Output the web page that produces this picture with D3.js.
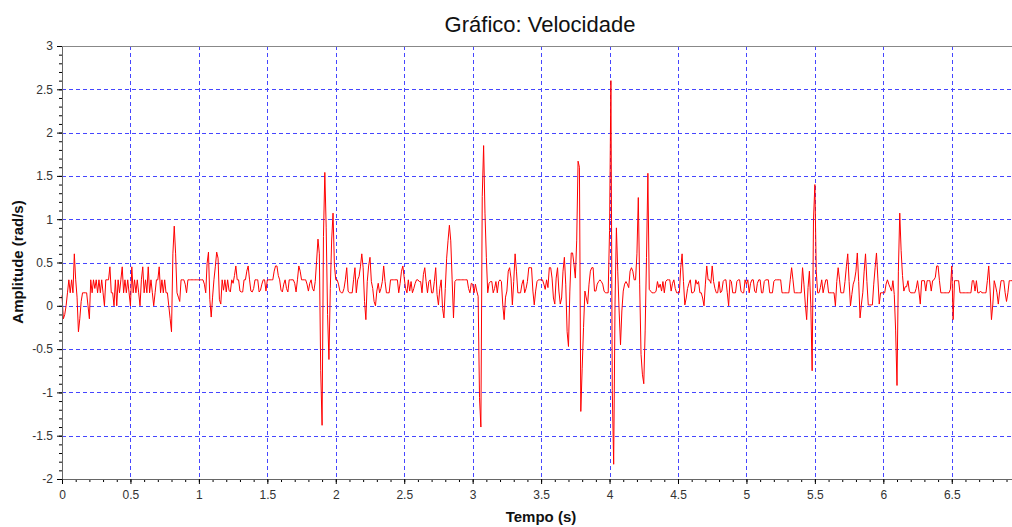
<!DOCTYPE html>
<html>
<head>
<meta charset="utf-8">
<script src="https://cdn.jsdelivr.net/npm/d3@7"></script>
<style>
  body { margin: 0; background: #fff; }
  svg { display: block; font-family: "Liberation Sans", Arial, sans-serif; }
  .tick text { fill: #333; font-size: 12px; }
  .grid line { stroke: #4646ff; stroke-dasharray: 4,3; shape-rendering: crispEdges; }
</style>
</head>
<body>
<svg id="chart" width="1012" height="527"></svg>
<script>
const titleText = "Gráfico: Velocidade";
const xAxisLabel = "Tempo (s)";
const yAxisLabel = "Amplitude (rad/s)";

const xDomain = [0, 6.94];
const yDomain = [-2, 3];
const xTicks = [0, 0.5, 1, 1.5, 2, 2.5, 3, 3.5, 4, 4.5, 5, 5.5, 6, 6.5];
const yTicks = [-2, -1.5, -1, -0.5, 0, 0.5, 1, 1.5, 2, 2.5, 3];
const sampleStep = 0.01; // s

// velocity (rad/s), one value every 0.01 s
const velocity = [
  0.12, -0.15, -0.1, 0, 0.15, 0.3, 0.15, 0.3, 0.15, 0.6,
  0.3, 0.1, -0.3, -0.15, 0.05, 0.15, 0.15, 0.15, 0.15, 0,
  -0.15, 0.3, 0.15, 0.3, 0.2, 0.3, 0.15, 0.3, 0.15, 0.3,
  0.15, 0, 0.3, 0.3, 0.3, 0.45, 0.15, 0.15, 0, 0.3,
  0, 0.3, 0.15, 0.3, 0.45, 0.15, 0.3, 0.15, 0.3, 0.15,
  0, 0.45, 0.15, 0.3, 0.15, 0.3, 0.15, 0, 0.3, 0.45,
  0.15, 0.3, 0.15, 0.45, 0.15, 0.3, 0.15, 0, 0.15, 0.3,
  0.3, 0.45, 0.15, 0.3, 0.15, 0.3, 0.15, 0.15, 0, -0.15,
  -0.3, 0.6, 0.92, 0.6, 0.15, 0.1, 0.05, 0.3, 0.3, 0.3,
  0.25, 0.15, 0.3, 0.3, 0.3, 0.3, 0.3, 0.3, 0.3, 0.3,
  0.3, 0.3, 0.3, 0.3, 0.25, 0.15, 0.49, 0.62, 0.07, -0.13,
  0.1, 0.3, 0.45, 0.62, 0.55, 0.07, 0.02, 0.3, 0.18, 0.3,
  0.16, 0.3, 0.18, 0.16, 0.3, 0.26, 0.35, 0.46, 0.3, 0.3,
  0.17, 0.16, 0.16, 0.3, 0.3, 0.4, 0.46, 0.3, 0.17, 0.16,
  0.2, 0.3, 0.3, 0.3, 0.16, 0.18, 0.25, 0.3, 0.3, 0.17,
  0.3, 0.3, 0.3, 0.3, 0.3, 0.4, 0.46, 0.46, 0.35, 0.3,
  0.18, 0.16, 0.25, 0.3, 0.2, 0.16, 0.3, 0.3, 0.3, 0.3,
  0.26, 0.16, 0.3, 0.46, 0.4, 0.3, 0.3, 0.3, 0.3, 0.25,
  0.17, 0.26, 0.3, 0.2, 0.17, 0.28, 0.52, 0.77, 0.6, -0.75,
  -1.38, 0.8, 1.54, 0.9, -0.1, -0.62, 0.2, 0.76, 1.07, 0.47,
  0.3, 0.3, 0.25, 0.17, 0.15, 0.15, 0.2, 0.3, 0.44, 0.17,
  0.15, 0.15, 0.15, 0.3, 0.44, 0.15, 0.3, 0.34, 0.45, 0.6,
  0.44, 0.05, -0.16, 0.28, 0.46, 0.56, 0.28, 0.2, 0.05, 0,
  0.17, 0.26, 0.15, 0.2, 0.28, 0.46, 0.28, 0.15, 0.15, 0.15,
  0.3, 0.3, 0.3, 0.3, 0.3, 0.3, 0.15, 0.26, 0.4, 0.46,
  0.32, 0.2, 0.15, 0.3, 0.17, 0.28, 0.15, 0.2, 0.26, 0.3,
  0.3, 0.28, 0.28, 0.15, 0.36, 0.44, 0.28, 0.15, 0.28, 0.3,
  0.15, 0.15, 0.28, 0.44, 0.13, 0.01, 0.2, 0.3, -0.03, -0.14,
  0.2, 0.55, 0.75, 0.93, 0.75, 0.3, -0.14, 0.28, 0.3, 0.3,
  0.3, 0.3, 0.3, 0.3, 0.3, 0.3, 0.3, 0.2, 0.15, 0.26,
  0.25, 0.15, 0.25, 0.17, 0.11, -1.06, -1.4, 1.26, 1.85, 1.07,
  0.56, 0.15, 0.26, 0.28, 0.28, 0.15, 0.2, 0.28, 0.15, 0.28,
  0.3, 0.28, 0.01, -0.16, 0.1, 0.17, 0.4, 0.44, 0.32, 0.01,
  0.28, 0.6, 0.4, 0.15, 0.15, 0.15, 0.25, 0.3, 0.15, 0.2,
  0.28, 0.44, 0.44, 0.44, 0.17, 0.01, 0.17, 0.28, 0.3, 0.3,
  0.3, 0.3, 0.25, 0.19, 0.3, 0.21, 0.44, 0.44, 0.32, 0.09,
  0.02, 0.32, 0.44, 0.17, 0.02, 0.09, 0.4, 0.56, 0.25, -0.3,
  -0.47, 0.17, 0.61, 0.61, 0.48, 0.32, 0.75, 1.67, 1.6, -1.22,
  -0.72, -0.25, 0.17, 0.09, 0.02, 0.25, 0.4, 0.44, 0.44, 0.17,
  0.17, 0.25, 0.28, 0.3, 0.28, 0.25, 0.17, 0.15, 0.15, 0.15,
  0.87, 2.6, -0.98, -1.83, 0.02, 0.9, 0.4, -0.06, -0.45, -0.06,
  0.17, 0.25, 0.28, 0.25, 0.21, 0.4, 0.44, 0.4, 0.3, 0.3,
  0.6, 1.25, 0.25, -0.56, -0.79, -0.9, -0.29, 0.56, 1.53, 0.19,
  0.17, 0.15, 0.15, 0.15, 0.17, 0.28, 0.21, 0.25, 0.17, 0.28,
  0.15, 0.28, 0.3, 0.3, 0.3, 0.17, 0.26, 0.3, 0.2, 0.15,
  0.15, 0.15, 0.44, 0.6, 0.28, 0.01, 0.09, 0.2, 0.26, 0.3,
  0.15, 0.15, 0.17, 0.3, 0.25, 0.28, 0.15, 0.15, 0.09, 0,
  0.25, 0.46, 0.3, 0.3, 0.26, 0.46, 0.28, 0.2, 0.15, 0.15,
  0.28, 0.15, 0.17, 0.28, 0.3, 0.3, 0.15, 0, 0.3, 0.28,
  0.15, 0.15, 0.15, 0.28, 0.3, 0.3, 0.17, 0.15, 0.15, 0.3,
  0.25, 0.3, 0.15, 0.26, 0.3, 0.3, 0.17, 0.15, 0.26, 0.3,
  0.3, 0.15, 0.15, 0.28, 0.3, 0.3, 0.3, 0.15, 0.15, 0.15,
  0.28, 0.3, 0.3, 0.3, 0.3, 0.3, 0.15, 0.15, 0.15, 0.15,
  0.15, 0.15, 0.3, 0.44, 0.3, 0.15, 0.15, 0.15, 0.15, 0.15,
  0.15, 0.44, 0.25, 0.02, -0.16, 0.21, 0.4, 0.02, -0.75, 1.0,
  1.4, 0.4, 0.15, 0.15, 0.21, 0.3, 0.15, 0.23, 0.3, 0.3,
  0.15, 0.15, 0.15, 0.15, 0.15, 0, 0.28, 0.44, 0.3, 0.15,
  0.15, 0.15, 0.28, 0.45, 0.6, 0.28, 0, 0.13, 0.25, 0.3,
  0.4, 0.61, 0.28, -0.14, 0.02, 0.15, 0.4, 0.6, 0.28, 0.01,
  0.01, 0.01, 0.01, 0.25, 0.44, 0.61, 0.32, 0.02, 0.15, 0.15,
  0.15, 0.15, 0.25, 0.3, 0.25, 0.21, 0.17, 0.29, 0.13, -0.29,
  -0.92, 0.4, 1.07, 0.64, 0.35, 0.17, 0.22, 0.22, 0.29, 0.17,
  0.15, 0.15, 0.15, 0.15, 0.2, 0.29, 0.17, 0.02, 0.29, 0.29,
  0.29, 0.17, 0.29, 0.29, 0.29, 0.17, 0.29, 0.3, 0.33, 0.46,
  0.46, 0.29, 0.15, 0.15, 0.15, 0.15, 0.15, 0.15, 0.15, 0.19,
  0.46, -0.16, 0.29, 0.29, 0.29, 0.29, 0.15, 0.15, 0.15, 0.15,
  0.15, 0.15, 0.15, 0.15, 0.15, 0.29, 0.29, 0.17, 0.29, 0.15,
  0.15, 0.17, 0.15, 0.15, 0.15, 0.15, 0.29, 0.46, 0.17, -0.16,
  0.02, 0.29, 0.23, 0.15, 0.02, 0.17, 0.29, 0.29, 0.29, 0.15,
  0.05, 0.15, 0.29, 0.29, 0.29
];

const margin = { top: 46, right: 0, bottom: 48, left: 62 };
const width = 1012;
const height = 527;
const innerWidth = width - margin.left - margin.right;
const innerHeight = height - margin.top - margin.bottom;

const data = velocity.map((v, i) => ({ t: i * sampleStep, v }));

const svg = d3.select("#chart");

const xScale = d3.scaleLinear().domain(xDomain).range([0, innerWidth]);
const yScale = d3.scaleLinear().domain(yDomain).range([innerHeight, 0]);

const g = svg.append("g").attr("transform", `translate(${margin.left},${margin.top})`);

// grid
g.append("g")
  .attr("class", "grid")
  .selectAll("line")
  .data(xTicks.filter((d) => d > 0))
  .join("line")
  .attr("x1", (d) => Math.round(xScale(d)) + 0.5)
  .attr("x2", (d) => Math.round(xScale(d)) + 0.5)
  .attr("y1", 0)
  .attr("y2", innerHeight);

g.append("g")
  .attr("class", "grid")
  .selectAll("line")
  .data(yTicks.filter((d) => d > yDomain[0] && d < yDomain[1]))
  .join("line")
  .attr("x1", 0)
  .attr("x2", innerWidth)
  .attr("y1", (d) => Math.round(yScale(d)) + 0.5)
  .attr("y2", (d) => Math.round(yScale(d)) + 0.5);

// signal
const lineGenerator = d3
  .line()
  .x((d) => xScale(d.t))
  .y((d) => yScale(d.v));

g.append("path")
  .datum(data)
  .attr("fill", "none")
  .attr("stroke", "#ff0000")
  .attr("stroke-width", 1)
  .attr("stroke-linejoin", "round")
  .attr("d", lineGenerator);

// minor ticks (no labels)
const xMinor = d3.range(0, xDomain[1], 0.1);
const yMinor = d3.range(yDomain[0], yDomain[1] + 0.001, 0.1);

g.append("g")
  .attr("transform", `translate(0,${innerHeight})`)
  .call(d3.axisBottom(xScale).tickValues(xMinor).tickSize(3).tickFormat(""))
  .call((s) => s.select(".domain").remove())
  .call((s) => s.selectAll("text").remove());

g.append("g")
  .call(d3.axisLeft(yScale).tickValues(yMinor).tickSize(3).tickFormat(""))
  .call((s) => s.select(".domain").remove())
  .call((s) => s.selectAll("text").remove());

// major axes
const xAxisG = g.append("g")
  .attr("transform", `translate(0,${innerHeight})`)
  .call(d3.axisBottom(xScale).tickValues(xTicks).tickSize(5).tickPadding(6).tickSizeOuter(0).tickFormat((d) => String(d)));

const yAxisG = g.append("g")
  .call(d3.axisLeft(yScale).tickValues(yTicks).tickSize(5).tickPadding(4).tickSizeOuter(0).tickFormat((d) => String(d)));

xAxisG.select(".domain").attr("stroke", "#666");
yAxisG.select(".domain").attr("stroke", "#666");

// top frame
g.append("line")
  .attr("x1", 0)
  .attr("x2", innerWidth)
  .attr("y1", 0.5)
  .attr("y2", 0.5)
  .attr("stroke", "#888");

// labels
svg.append("text")
  .attr("x", 540)
  .attr("y", 32)
  .attr("text-anchor", "middle")
  .attr("font-size", 22)
  .attr("fill", "#111")
  .text(titleText);

svg.append("text")
  .attr("x", 541)
  .attr("y", 522)
  .attr("text-anchor", "middle")
  .attr("font-size", 15)
  .attr("font-weight", "bold")
  .attr("fill", "#111")
  .text(xAxisLabel);

svg.append("text")
  .attr("transform", `translate(23,262) rotate(-90)`)
  .attr("text-anchor", "middle")
  .attr("font-size", 15)
  .attr("font-weight", "bold")
  .attr("fill", "#111")
  .text(yAxisLabel);
</script>
</body>
</html>
